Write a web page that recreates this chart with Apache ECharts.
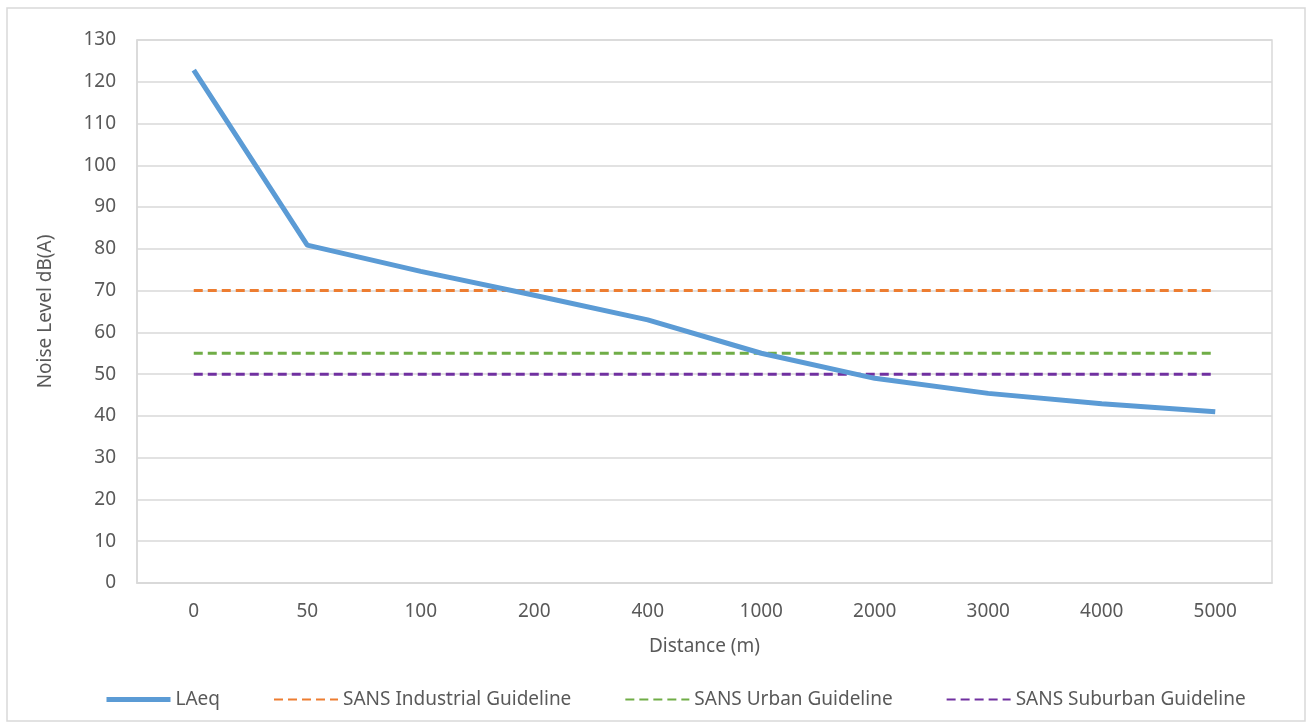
<!DOCTYPE html>
<html>
<head>
<meta charset="utf-8">
<script src="https://cdn.jsdelivr.net/npm/echarts@6/dist/echarts.min.js"></script>
<style>
html, body { margin: 0; padding: 0; background: #fff; }
#main { width: 1309px; height: 726px; }
</style>
</head>
<body>
<div id="main"></div>
<script>
// 数据
var distances = ['0', '50', '100', '200', '400', '1000', '2000', '3000', '4000', '5000'];
var laeq = [122.8, 80.9, 74.6, 68.9, 63, 55, 49, 45.4, 42.9, 41];
var industrial = [70, 70, 70, 70, 70, 70, 70, 70, 70, 70];
var urban = [55, 55, 55, 55, 55, 55, 55, 55, 55, 55];
var suburban = [50, 50, 50, 50, 50, 50, 50, 50, 50, 50];

var FONT = 'Noto Sans';
var TXT = '#595959';
var FS = 19;

var myChart = echarts.init(document.getElementById('main'));

function dashed(name, data, color) {
	return {
		name: name,
		type: 'line',
		data: data,
		symbol: 'none',
		lineStyle: { color: color, width: 3, type: [9, 5] },
		itemStyle: { color: color },
		z: 2
	};
}

var option = {
	animation: false,
	backgroundColor: '#fff',
	textStyle: { fontFamily: FONT },
	graphic: [{
		type: 'rect',
		shape: { x: 7, y: 8, width: 1298, height: 713 },
		style: { fill: 'none', stroke: '#d9d9d9', lineWidth: 1.5 },
		silent: true
	}],
	grid: {
		left: 137, right: 37, top: 40, bottom: 143,
		show: true, borderColor: '#d9d9d9', borderWidth: 1.5
	},
	legend: {
		left: 99,
		top: 685,
		itemWidth: 64,
		itemHeight: 14,
		itemGap: 53,
		itemStyle: { opacity: 0 },
		textStyle: { color: TXT, fontSize: FS, fontFamily: FONT },
		data: [
			{ name: 'LAeq', lineStyle: { width: 5 } },
			{ name: 'SANS Industrial Guideline' },
			{ name: 'SANS Urban Guideline' },
			{ name: 'SANS Suburban Guideline' }
		]
	},
	xAxis: {
		type: 'category',
		data: distances,
		boundaryGap: true,
		name: 'Distance (m)',
		nameLocation: 'middle',
		nameGap: 54,
		nameTextStyle: { color: TXT, fontSize: FS, fontFamily: FONT },
		axisLine: { lineStyle: { color: '#d9d9d9', width: 1.5 } },
		axisTick: { alignWithLabel: true, length: 5, lineStyle: { color: '#d9d9d9', width: 1.5 } },
		axisLabel: { color: TXT, fontSize: FS, margin: 19, fontFamily: FONT }
	},
	yAxis: {
		type: 'value',
		min: 0,
		max: 130,
		interval: 10,
		name: 'Noise Level dB(A)',
		nameLocation: 'middle',
		nameRotate: 90,
		nameGap: 82,
		nameTextStyle: { color: TXT, fontSize: FS, fontFamily: FONT },
		axisLine: { show: true, lineStyle: { color: '#d9d9d9', width: 1.5 } },
		axisTick: { show: false },
		axisLabel: { color: TXT, fontSize: FS, margin: 21, fontFamily: FONT },
		splitLine: { lineStyle: { color: '#d9d9d9', width: 1.5 } }
	},
	series: [
		{
			name: 'LAeq',
			type: 'line',
			data: laeq,
			symbol: 'none',
			lineStyle: { color: '#5b9bd5', width: 5 },
			itemStyle: { color: '#5b9bd5' },
			z: 3
		},
		dashed('SANS Industrial Guideline', industrial, '#ed7d31'),
		dashed('SANS Urban Guideline', urban, '#70ad47'),
		dashed('SANS Suburban Guideline', suburban, '#7030a0')
	]
};

if (option && typeof option === "object") {
	myChart.setOption(option, true);
}
</script>
</body>
</html>
